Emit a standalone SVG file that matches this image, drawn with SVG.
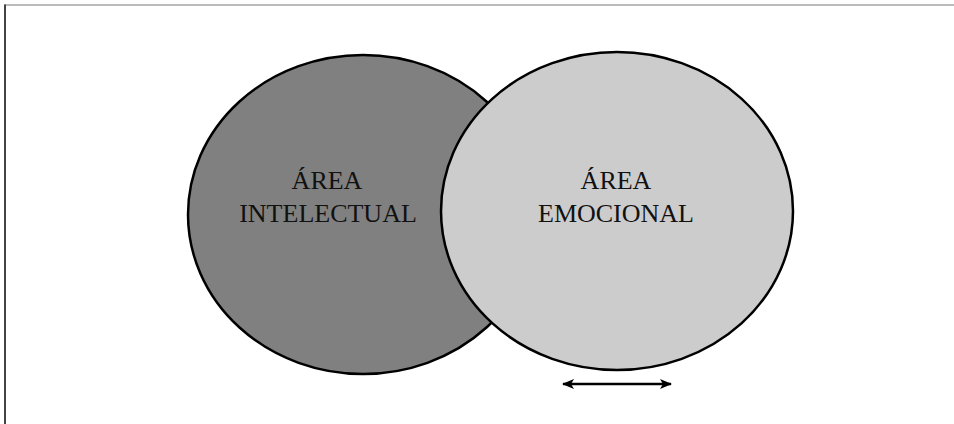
<svg xmlns="http://www.w3.org/2000/svg" width="954" height="424" viewBox="0 0 954 424">
  <defs>
    <style>
      .lbl { font-family: "Liberation Serif", "Times New Roman", serif; font-size: 26px; fill: #111; text-anchor: middle; }
      .ell { stroke: #000; stroke-width: 2.5; }
      .conn { stroke: #000; stroke-width: 2.5; fill: none; }
    </style>
    <marker id="ah" viewBox="0 0 12 10" refX="11" refY="5" markerWidth="12" markerHeight="10" markerUnits="userSpaceOnUse" orient="auto-start-reverse">
      <path d="M0,0 L12,5 L0,10 L3,5 Z" fill="#000"/>
    </marker>
  </defs>
  <rect width="954" height="424" fill="#fff"/>
  <g id="frame">
    <line x1="4.5" y1="5" x2="954" y2="5" stroke="#777" stroke-width="1.2"/>
    <line x1="5" y1="4.5" x2="5" y2="424" stroke="#444" stroke-width="2"/>
  </g>
  <g id="area-intelectual">
    <ellipse class="ell" cx="363" cy="214.5" rx="175" ry="159.5" fill="#808080"/>
  </g>
  <g id="area-emocional">
    <ellipse class="ell" cx="617" cy="211" rx="176" ry="159" fill="#cccccc"/>
  </g>
  <g id="labels">
    <text class="lbl" x="327" y="189">ÁREA</text>
    <text class="lbl" x="328" y="222">INTELECTUAL</text>
    <text class="lbl" x="616" y="189">ÁREA</text>
    <text class="lbl" x="616" y="222">EMOCIONAL</text>
  </g>
  <g id="connectors">
    <line class="conn" x1="563" y1="384" x2="671" y2="384" marker-start="url(#ah)" marker-end="url(#ah)"/>
  </g>
</svg>
